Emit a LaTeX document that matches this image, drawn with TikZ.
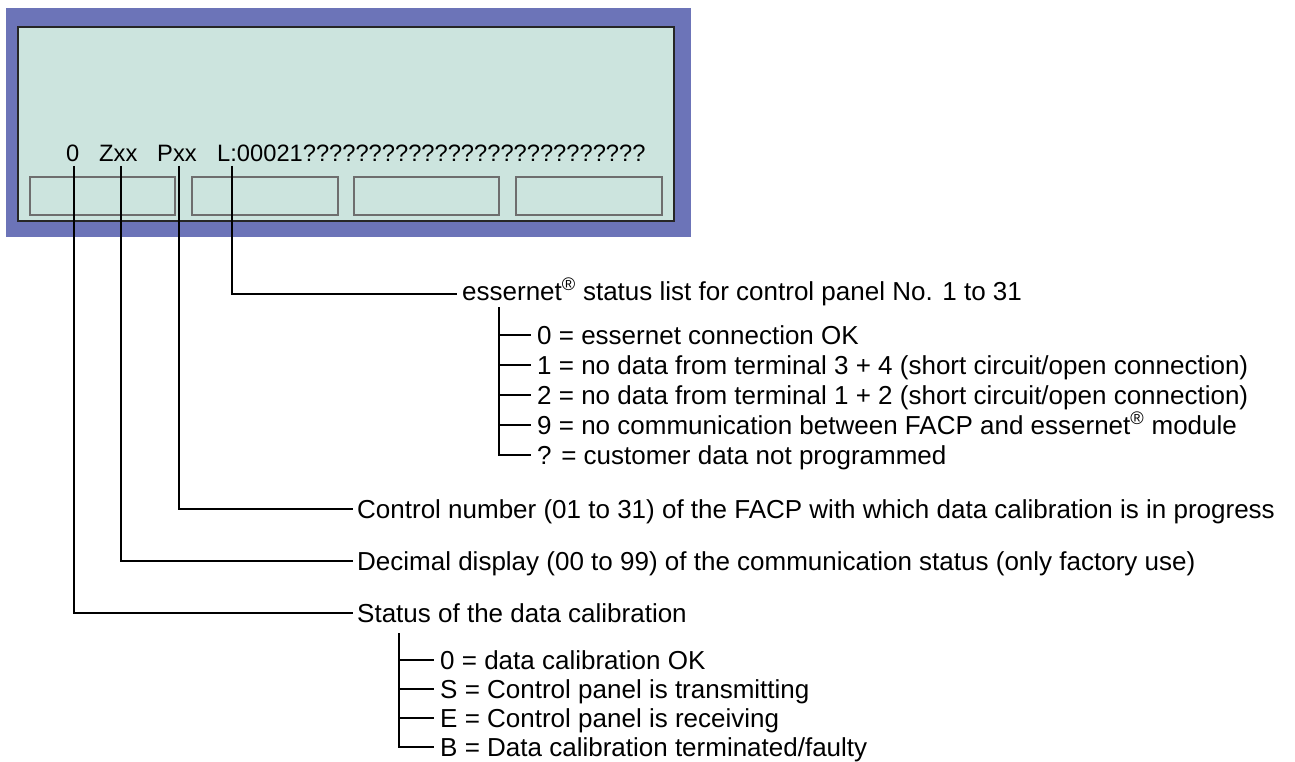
\documentclass[tikz,border=0pt]{standalone}
\usepackage{fontspec}
\setmainfont{Liberation Sans}
\definecolor{frameblue}{HTML}{6C74B8}
\definecolor{lcdfill}{HTML}{CCE4DE}
\definecolor{btnedge}{HTML}{6E6E6E}
\begin{document}
\begin{tikzpicture}[x=1pt,y=-1pt,
  conn/.style={draw=black,line width=1.6pt},
  lab/.style={anchor=base west,inner sep=0pt,font=\fontsize{26}{30}\selectfont},
  lcdtext/.style={anchor=base west,inner sep=0pt,font=\fontsize{23.7}{28}\selectfont},
  btn/.style={draw=btnedge,line width=1.2pt}]
\useasboundingbox (0,0) rectangle (1295,762);
% panel
\fill[frameblue] (6,8) rectangle (691,237);
\filldraw[fill=lcdfill,draw=black!85,line width=1.5pt] (18,27) rectangle (674,221);
\draw[btn] (30,177) rectangle (175,215);
\draw[btn] (192,177) rectangle (338,215);
\draw[btn] (354,177) rectangle (499,215);
\draw[btn] (516,177) rectangle (662,215);
% display text
\node[lcdtext] (t0) at (66,162) {0};
\node[lcdtext] (tZ) at (99,162) {Zxx};
\node[lcdtext] (tP) at (157,162) {Pxx};
\node[lcdtext] (tL) at (217,162) {L:00021??????????????????????????};
\coordinate (c0) at (74,166);
\coordinate (cZ) at (121,166);
\coordinate (cP) at (179,166);
\coordinate (cL) at (232,166);
% labels
\node[lab] (ess) at (462,300) {essernet\textsuperscript{®} status list for control panel No. 1 to 31};
\node[lab] (e0) at (537,344) {0 = essernet connection OK};
\node[lab] (e1) at (537,374) {1 = no data from terminal 3 + 4 (short circuit/open connection)};
\node[lab] (e2) at (537,404) {2 = no data from terminal 1 + 2 (short circuit/open connection)};
\node[lab] (e9) at (537,434) {9 = no communication between FACP and essernet\textsuperscript{®} module};
\node[lab] (eq) at (537,464) {? = customer data not programmed};
\node[lab] (ctl) at (357,518) {Control number (01 to 31) of the FACP with which data calibration is in progress};
\node[lab] (dec) at (357,570) {Decimal display (00 to 99) of the communication status (only factory use)};
\node[lab] (sta) at (357,622) {Status of the data calibration};
\node[lab] (s0) at (440,669) {0 = data calibration OK};
\node[lab] (sS) at (440,698) {S = Control panel is transmitting};
\node[lab] (sE) at (440,727) {E = Control panel is receiving};
\node[lab] (sB) at (440,756) {B = Data calibration terminated/faulty};
% connector ends
\coordinate (essIn) at ([shift={(-5pt,6pt)}]ess.base west);
\coordinate (ctlIn) at ([shift={(-4pt,9pt)}]ctl.base west);
\coordinate (decIn) at ([shift={(-4pt,9pt)}]dec.base west);
\coordinate (staIn) at ([shift={(-4pt,9pt)}]sta.base west);
\coordinate (essTop) at (499,307);
\coordinate (staTop) at (399,633);
\foreach \n in {e0,e1,e2,e9,eq,s0,sS,sE,sB}{
  \coordinate (\n In) at ([shift={(-6pt,9pt)}]\n.base west);
}
% connectors
\draw[conn] (cL) |- (essIn);
\draw[conn] (cP) |- (ctlIn);
\draw[conn] (cZ) |- (decIn);
\draw[conn] (c0) |- (staIn);
\draw[conn] (essTop) |- (eqIn);
\foreach \n in {e0,e1,e2,e9}{\draw[conn] (essTop |- \n In) -- (\n In);}
\draw[conn] (staTop) |- (sBIn);
\foreach \n in {s0,sS,sE}{\draw[conn] (staTop |- \n In) -- (\n In);}
\end{tikzpicture}
\end{document}
